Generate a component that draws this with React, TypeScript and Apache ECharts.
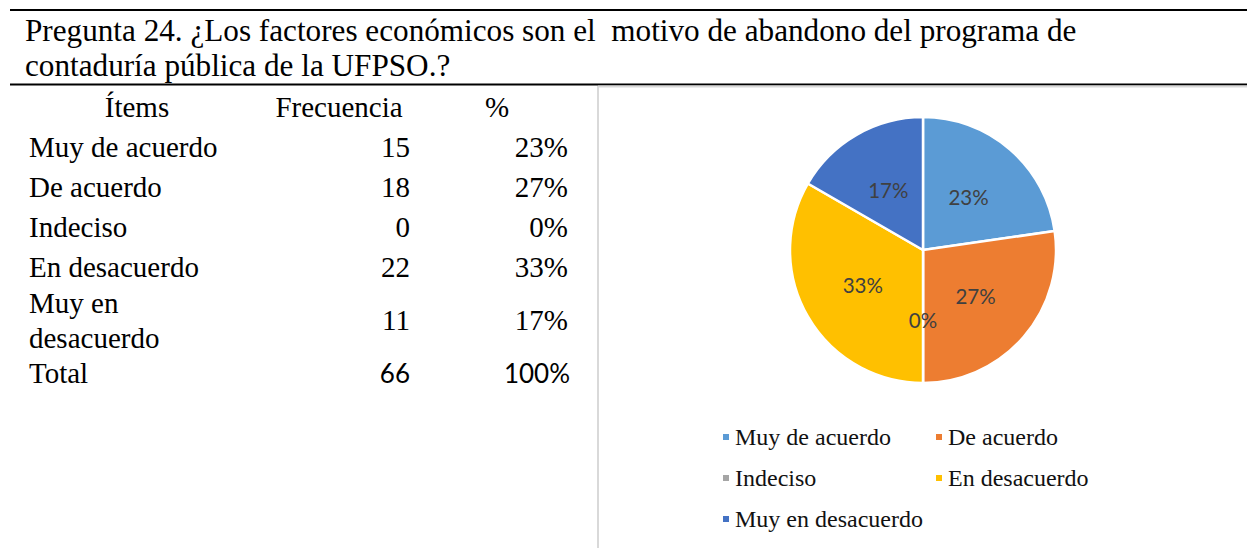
import React, { useEffect, useRef } from "react";
import * as echarts from "echarts";

const titleLines = [
  "Pregunta 24. ¿Los factores económicos son el  motivo de abandono del programa de",
  "contaduría pública de la UFPSO.?",
];
const headers = ["Ítems", "Frecuencia", "%"];
const categories = ["Muy de acuerdo", "De acuerdo", "Indeciso", "En desacuerdo", "Muy en desacuerdo"];
const frequencies = [15, 18, 0, 22, 11];
const percentLabels = ["23%", "27%", "0%", "33%", "17%"];
const totalRow = ["Total", "66", "100%"];
const colors = ["#5B9BD5", "#ED7D31", "#A5A5A5", "#FFC000", "#4472C4"];

const SERIF = "'Liberation Serif', 'Times New Roman', serif";
const SANS = "Lato, 'Noto Sans', sans-serif";

// wrap long item names the way the narrow table column does
const wrapCell = (s: string) => (s.length > 15 ? s.replace(/^(\S+ \S+) /, "$1\n") : s);

export default function App() {
  const ref = useRef<HTMLDivElement>(null);
  useEffect(() => {
    if (!ref.current) return;
    const chart = echarts.init(ref.current, undefined, { renderer: "svg" });

    const graphics: any[] = [];
    graphics.push({ type: "line", shape: { x1: 10, y1: 10, x2: 1247, y2: 10 }, style: { stroke: "#000", lineWidth: 2 } });
    graphics.push({ type: "line", shape: { x1: 10, y1: 84.5, x2: 1247, y2: 84.5 }, style: { stroke: "#000", lineWidth: 2 } });
    graphics.push({ type: "line", shape: { x1: 598, y1: 86.5, x2: 1247, y2: 86.5 }, style: { stroke: "#d9d9d9", lineWidth: 2 } });
    graphics.push({ type: "line", shape: { x1: 598, y1: 86, x2: 598, y2: 548 }, style: { stroke: "#d9d9d9", lineWidth: 2 } });

    titleLines.forEach((t, i) => {
      graphics.push({
        type: "text",
        x: 25,
        y: 30 + i * 35,
        style: { text: t, font: `31.2px ${SERIF}`, fill: "#000", verticalAlign: "middle", align: "left" },
      });
    });

    const FS = 29;
    const colX = [137, 339, 497];
    headers.forEach((h, i) => {
      graphics.push({
        type: "text",
        x: colX[i],
        y: 107,
        style: { text: h, font: `${FS}px ${SERIF}`, fill: "#000", verticalAlign: "middle", align: "center" },
      });
    });

    const rowHeights = [40, 40, 40, 40, 66];
    let yTop = 127;
    categories.forEach((c, i) => {
      const yc = yTop + rowHeights[i] / 2;
      graphics.push({
        type: "text",
        x: 29,
        y: yc,
        style: {
          text: wrapCell(c),
          font: `${FS}px ${SERIF}`,
          fill: "#000",
          verticalAlign: "middle",
          align: "left",
          lineHeight: 35,
        },
      });
      graphics.push({
        type: "text",
        x: 410,
        y: yc,
        style: { text: String(frequencies[i]), font: `${FS}px ${SERIF}`, fill: "#000", verticalAlign: "middle", align: "right" },
      });
      graphics.push({
        type: "text",
        x: 568,
        y: yc,
        style: { text: percentLabels[i], font: `${FS}px ${SERIF}`, fill: "#000", verticalAlign: "middle", align: "right" },
      });
      yTop += rowHeights[i];
    });
    const yTot = yTop + 20;
    graphics.push({
      type: "text",
      x: 29,
      y: yTot,
      style: { text: totalRow[0], font: `${FS}px ${SERIF}`, fill: "#000", verticalAlign: "middle", align: "left" },
    });
    graphics.push({
      type: "text",
      x: 410,
      y: yTot,
      style: { text: totalRow[1], font: `26px ${SANS}`, fill: "#000", verticalAlign: "middle", align: "right" },
    });
    graphics.push({
      type: "text",
      x: 570,
      y: yTot,
      style: { text: totalRow[2], font: `26px ${SANS}`, fill: "#000", verticalAlign: "middle", align: "right" },
    });

    chart.setOption({
      animation: false,
      backgroundColor: "#fff",
      color: colors,
      legend: {
        left: 716,
        top: 420,
        width: 430,
        orient: "horizontal",
        itemWidth: 8,
        itemHeight: 8,
        itemGap: 17,
        icon: "rect",
        data: categories,
        textStyle: { fontFamily: SERIF, fontSize: 24, color: "#111", width: 182, lineHeight: 21, padding: [0, 0, 0, 0] },
      },
      graphic: graphics,
      series: [
        {
          type: "pie",
          center: [923, 250],
          radius: 133,
          startAngle: 90,
          clockwise: true,
          avoidLabelOverlap: false,
          itemStyle: { borderColor: "#fff", borderWidth: 2.5 },
          label: {
            show: true,
            position: "inside",
            formatter: (p: any) => percentLabels[p.dataIndex],
            fontFamily: SANS,
            fontSize: 20.5,
            color: "#404040",
          },
          labelLine: { show: false },
          emphasis: { disabled: true },
          data: categories.map((c, i) => ({ name: c, value: frequencies[i] })),
        },
      ],
    });
    return () => chart.dispose();
  }, []);
  return <div ref={ref} style={{ position: "absolute", left: 0, top: 0, width: 1247, height: 548 }} />;
}
